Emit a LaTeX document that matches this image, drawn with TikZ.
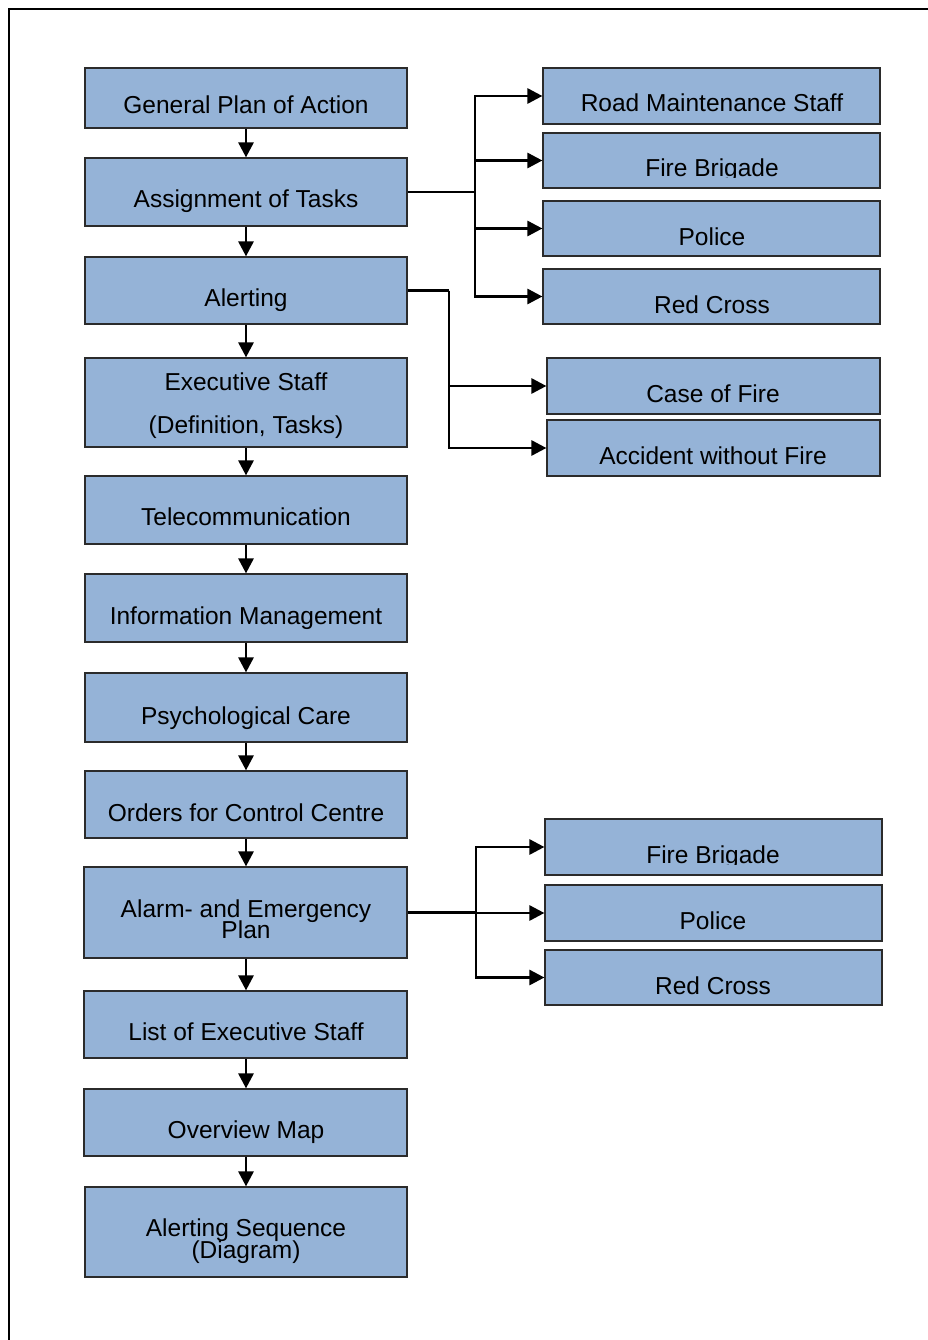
\documentclass[tikz,border=0pt]{standalone}
\usepackage{fontspec}
\setmainfont{Liberation Sans}
\usetikzlibrary{arrows.meta}
\definecolor{boxfill}{HTML}{95B3D7}
\definecolor{boxline}{HTML}{2B2B2B}
% a box given by its corners: name, x1, y1, x2, y2
\newcommand\flowbox[5]{%
  \node[box, minimum width={(#4-#2)*1pt}, minimum height={(#5-#3)*1pt}]
    (#1) at ({(#2+#4)/2},{(#3+#5)/2}) {};}
\begin{document}
\begin{tikzpicture}[x=1pt,y=-1pt,
  box/.style={draw=boxline, fill=boxfill, line width=1.2pt, inner sep=0pt},
  lbl/.style={font=\fontsize{24.5}{29}\selectfont, inner sep=0pt, anchor=base, align=center},
  wire/.style={line width=2.8pt},
  link/.style={wire, -{Triangle[length=15pt,width=15pt]}}]
\useasboundingbox (0,0) rectangle (928,1340);

% page frame
\draw[line width=2.4pt] (9,1345) -- (9,9) -- (935,9);

% main column
\flowbox{n1}{85}{68}{407}{128}
\flowbox{n2}{85}{158}{407}{226}
\flowbox{n3}{85}{257}{407}{324}
\flowbox{n4}{85}{358}{407}{447}
\flowbox{n5}{85}{476}{407}{544}
\flowbox{n6}{85}{574}{407}{642}
\flowbox{n7}{85}{673}{407}{742}
\flowbox{n8}{85}{771}{407}{838}
\flowbox{n9}{84}{867}{407}{958}
\flowbox{n10}{84}{991}{407}{1058}
\flowbox{n11}{84}{1089}{407}{1156}
\flowbox{n12}{85}{1187}{407}{1277}

% two-line texts are anchored at the baseline of their last line
\node[lbl] (t1) at (246,114) {General Plan of Action};
\node[lbl] (t2) at (246,208) {Assignment of Tasks};
\node[lbl] (t3) at (246,306) {Alerting};
\node[lbl, font={\fontsize{24.5}{43}\selectfont}] (t4) at (246,433) {Executive Staff\\(Definition, Tasks)};
\node[lbl] (t5) at (246,525) {Telecommunication};
\node[lbl] (t6) at (246,624) {Information Management};
\node[lbl] (t7) at (246,724) {Psychological Care};
\node[lbl] (t8) at (246,821) {Orders for Control Centre};
\node[lbl, font={\fontsize{24.5}{21}\selectfont\lineskiplimit=-30pt}] (t9) at (246,938) {Alarm- and Emergency\\Plan};
\node[lbl] (t10) at (246,1040) {List of Executive Staff};
\node[lbl] (t11) at (246,1138) {Overview Map};
\node[lbl, font={\fontsize{24.5}{22}\selectfont\lineskiplimit=-30pt}] (t12) at (246,1258) {Alerting Sequence\\(Diagram)};

% task groups
\flowbox{r1}{543}{68}{880}{124}
\flowbox{r2}{543}{133}{880}{188}
\flowbox{r3}{543}{201}{880}{256}
\flowbox{r4}{543}{269}{880}{324}
\node[lbl] (u1) at (712,112) {Road Maintenance Staff};
\begin{scope}
  \clip (543,133) rectangle (880,177.5);
  \node[lbl] (u2) at (712,177) {Fire Brigade};
\end{scope}
\node[lbl] (u3) at (712,245.5) {Police};
\node[lbl] (u4) at (712,313.5) {Red Cross};

% alerting cases
\flowbox{c1}{547}{358}{880}{414}
\flowbox{c2}{547}{420}{880}{476}
\node[lbl] (v1) at (713,402.5) {Case of Fire};
\node[lbl] (v2) at (713,464.5) {Accident without Fire};

% emergency plan recipients
\flowbox{e1}{545}{819}{882}{875}
\flowbox{e2}{545}{885}{882}{941}
\flowbox{e3}{545}{950}{882}{1005}
\begin{scope}
  \clip (545,819) rectangle (882,864);
  \node[lbl] (w1) at (713,863.5) {Fire Brigade};
\end{scope}
\node[lbl] (w2) at (713,929.5) {Police};
\node[lbl] (w3) at (713,994.5) {Red Cross};

% main sequence arrows
\foreach \a/\b in {n1/n2,n2/n3,n3/n4,n4/n5,n5/n6,n6/n7,n7/n8,n8/n9,n9/n10,n10/n11,n11/n12}
  \draw[link] (\a.south -| n1.south) -- (\b.north -| n1.north);

% branch buses
\coordinate (busA) at (475,0);
\coordinate (busB) at (449,0);
\coordinate (busC) at (476,0);

\draw[wire] (n2.east) -- (n2.east -| busA);
\foreach \t in {r1,r2,r3,r4}
  \draw[link] (n2.east -| busA) |- (\t.west);

\draw[wire] (n3.east) -- (n3.east -| busB);
\foreach \t in {c1,c2}
  \draw[link] (n3.east -| busB) |- (\t.west);

\draw[wire] (n9.east) -- (n9.east -| busC);
\foreach \t in {e1,e2,e3}
  \draw[link] (n9.east -| busC) |- (\t.west);
\end{tikzpicture}
\end{document}
